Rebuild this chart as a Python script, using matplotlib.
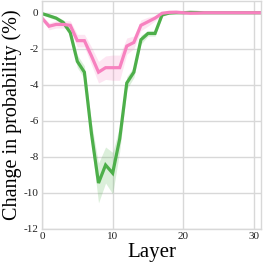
import matplotlib
matplotlib.use('Agg')
import matplotlib.pyplot as plt
import numpy as np

##### data #####
layers = list(range(32))

green_mean = [-0.05, -0.17, -0.3, -0.54, -1.1, -2.7, -3.3, -6.7, -9.45, -8.45,
              -8.9, -7.0, -3.9, -3.3, -1.5, -1.15, -1.15, -0.12, -0.02, 0.0,
              0.0, 0.02, 0.01, 0.0, 0.0, 0.0, 0.0, 0.0, 0.0, 0.0, 0.0, 0.0]
green_err = [0.05, 0.1, 0.1, 0.15, 0.2, 0.35, 0.35, 0.6, 1.1, 1.0,
             1.15, 0.7, 0.35, 0.3, 0.25, 0.15, 0.15, 0.1, 0.03, 0.03,
             0.03, 0.03, 0.03, 0.03, 0.03, 0.03, 0.03, 0.03, 0.03, 0.03, 0.03, 0.03]

pink_mean = [-0.3, -0.75, -0.65, -0.65, -0.7, -1.55, -1.55, -2.4, -3.3, -3.05,
             -3.05, -3.05, -1.85, -1.65, -0.7, -0.5, -0.3, -0.03, 0.02, 0.03,
             0.0, -0.03, -0.02, 0.0, 0.0, 0.0, 0.0, 0.0, 0.0, 0.0, 0.0, 0.0]
pink_err = [0.1, 0.2, 0.2, 0.2, 0.25, 0.35, 0.35, 0.5, 0.6, 0.65,
            0.7, 0.7, 0.45, 0.35, 0.3, 0.25, 0.15, 0.1, 0.05, 0.05,
            0.05, 0.05, 0.05, 0.05, 0.05, 0.05, 0.05, 0.05, 0.05, 0.05, 0.05, 0.05]

xticks = [0, 10, 20, 30]
yticks = [0, -2, -4, -6, -8, -10, -12]

##### style #####
plt.rcParams['font.family'] = ['Liberation Serif', 'DejaVu Serif']
plt.rcParams['axes.unicode_minus'] = False

fig = plt.figure(figsize=(2.66, 2.66), dpi=100)
ax = fig.add_axes([42/266, 37/266, 219/266, 228/266])

green = '#4daf4a'
pink = '#f781bf'

for mean, err, col in [(green_mean, green_err, green), (pink_mean, pink_err, pink)]:
    mean = np.array(mean)
    err = np.array(err)
    ax.fill_between(layers, mean - err, mean + err, color=col, alpha=0.2, linewidth=0)
    ax.plot(layers, mean, color=col, linewidth=2.3, solid_joinstyle='miter')

ax.set_xlim(0, 31)
ax.set_ylim(-12, 0.65)
ax.set_xticks(xticks)
ax.set_yticks(yticks)
ax.set_yticklabels([str(t) for t in yticks])
ax.tick_params(length=0, labelsize=8, pad=2.5, colors='#222222')
ax.grid(True, color='#d8d8d8', linewidth=1.0)
ax.set_axisbelow(True)
for s in ax.spines.values():
    s.set_color('#d8d8d8')
    s.set_linewidth(1.0)

ax.set_xlabel('Layer', fontsize=15, labelpad=1)
ax.set_ylabel('Change in probability (%)', fontsize=14.5, labelpad=1)

fig.savefig('out.png', dpi=100)
